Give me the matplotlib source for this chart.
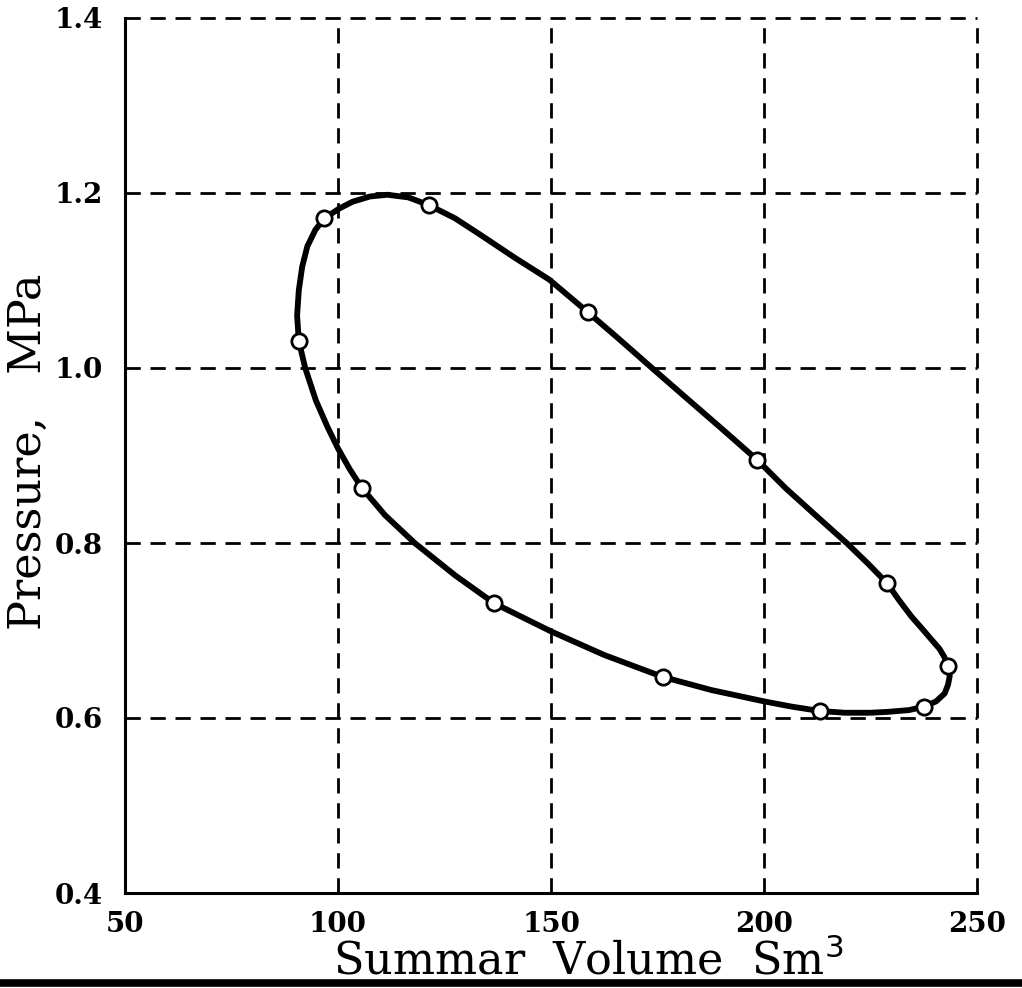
import matplotlib
matplotlib.use("Agg")
import matplotlib.pyplot as plt
from matplotlib.lines import Line2D

# measured points (open circles)
vol = [96.8, 121.4, 158.6, 198.4, 228.9, 243.2, 237.6, 213.1, 176.2, 136.7, 105.6, 90.8]
pres = [1.171, 1.186, 1.064, 0.895, 0.754, 0.660, 0.613, 0.608, 0.647, 0.731, 0.863, 1.031]

# traced loop in order around the cycle
loop_v = [96.8, 100.2, 103.4, 107.5, 111.6, 116.5, 121.4, 127.5, 133.5, 141.5, 149.6, 158.6,
          166.0, 173.7, 181.0, 190.0, 198.4, 205.0, 212.5, 219.4, 224.5, 228.9,
          231.8, 234.6, 237.3, 239.6, 241.2, 242.3, 243.2, 243.6, 243.2, 242.4, 240.4, 237.6,
          234.0, 229.0, 224.9, 219.0, 213.1, 206.5, 200.0, 187.6, 176.2, 162.5, 150.0,
          136.7, 127.5, 118.0, 111.0, 105.6, 102.8, 100.0, 97.5, 94.8, 92.3, 90.8,
          90.4, 90.8, 91.6, 92.8, 94.7, 96.8]
loop_p = [1.171, 1.182, 1.190, 1.196, 1.198, 1.195, 1.186, 1.171, 1.152, 1.126, 1.101, 1.064,
          1.033, 1.000, 0.969, 0.931, 0.895, 0.863, 0.830, 0.800, 0.776, 0.754,
          0.734, 0.716, 0.701, 0.688, 0.679, 0.670, 0.660, 0.648, 0.638, 0.628, 0.619, 0.613,
          0.609, 0.607, 0.606, 0.606, 0.608, 0.613, 0.619, 0.632, 0.647, 0.672, 0.699,
          0.731, 0.763, 0.800, 0.832, 0.863, 0.884, 0.908, 0.933, 0.963, 1.000, 1.031,
          1.060, 1.089, 1.116, 1.139, 1.158, 1.171]

xticks = [50, 100, 150, 200, 250]
yticks = [0.4, 0.6, 0.8, 1.0, 1.2, 1.4]

fig = plt.figure(figsize=(10.22, 9.88), dpi=100)
ax = fig.add_axes([125 / 1022, 1 - 893 / 988, 852 / 1022, 875 / 988])

ax.set_xlim(50, 250)
ax.set_ylim(0.4, 1.4)

for xv in xticks[1:]:
    ax.axvline(xv, color="black", lw=2.0, ls=(0, (5.5, 3.5)), clip_on=False, zorder=1)
for yv in yticks[1:]:
    ax.axhline(yv, color="black", lw=2.0, ls=(0, (5.5, 3.5)), clip_on=False, zorder=1)

ax.plot(loop_v, loop_p, color="black", lw=4.2, solid_joinstyle="round", zorder=3)
ax.plot(vol, pres, "o", ms=11, mfc="white", mec="black", mew=2.0, zorder=4)

for s in ["top", "right"]:
    ax.spines[s].set_visible(False)
for s in ["left", "bottom"]:
    ax.spines[s].set_linewidth(2.2)

ax.set_xticks(xticks)
ax.set_yticks(yticks)
ax.set_xticklabels([str(v) for v in xticks])
ax.set_yticklabels(["%.1f" % v for v in yticks])
ax.tick_params(length=0)
ax.tick_params(axis="x", pad=13)
ax.tick_params(axis="y", pad=16)
for lab in ax.get_xticklabels() + ax.get_yticklabels():
    lab.set_fontfamily("DejaVu Serif")
    lab.set_fontweight("bold")
    lab.set_fontsize(20)

fig.text(0.576, 0.0132, "Summar  Volume  Sm$^3$", family="DejaVu Serif", fontsize=32,
         ha="center", va="baseline")
fig.text(0.028, 1 - 452 / 988, "Pressure,   MPa", family="DejaVu Serif", fontsize=32,
         rotation=90, ha="center", va="center")

# thick rule along the bottom of the scan
fig.add_artist(Line2D([0, 1], [0.0055, 0.0055], color="black", lw=5.5, transform=fig.transFigure))

fig.savefig("out.png", dpi=100, facecolor="white")
